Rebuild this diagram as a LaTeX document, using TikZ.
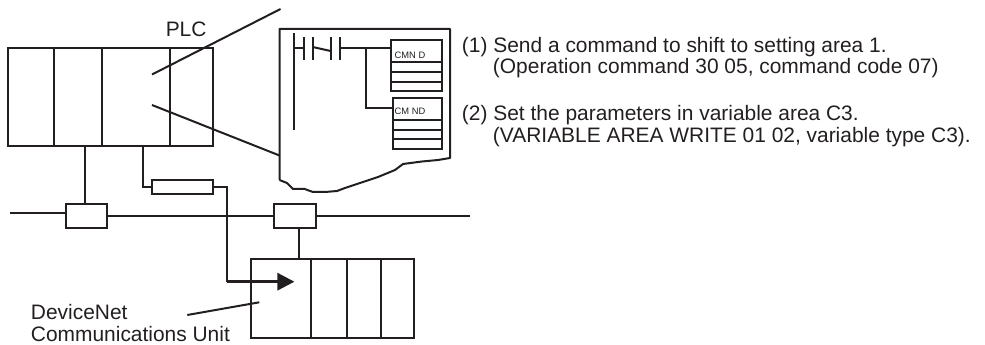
\documentclass[tikz,border=0pt]{standalone}
\usepackage{fontspec}
\setmainfont{Liberation Sans}
\usepackage{tikz}
\usetikzlibrary{positioning, arrows.meta}
\definecolor{linegray}{HTML}{231F20}
\tikzset{
    wire/.style={line width=1.5pt, draw=linegray},
    label/.style={inner sep=0pt, anchor=base west, text=linegray, font=\fontsize{15.7pt}{16pt}\selectfont},
    smalltext/.style={inner sep=0pt, text=linegray, font=\fontsize{7pt}{8pt}\selectfont},
    tapbox/.style={wire, rectangle, inner sep=0pt, minimum width=31.2pt, minimum height=18pt},
}
\begin{document}
\begin{tikzpicture}[x=0.75pt, y=-0.75pt, >=Latex]
        \useasboundingbox (0,0) rectangle (985,345);
        % PLC rack
        \draw [wire] (8,48) rectangle (212.5,146);
        \foreach \x in {54,102,169.5} \draw [wire] (\x,48) -- (\x,146);
        \node [label] (plc) at (165.5,36.7) {PLC};
        % zoom leaders
        \coordinate (leadtopa) at (152,74.5);
        \coordinate (leadtopb) at (280.5,9);
        \coordinate (leadlowa) at (152,105);
        \coordinate (leadlowb) at (279.5,155.5);
        \draw [wire] (leadtopa) -- (leadtopb);
        \draw [wire] (leadlowa) -- (leadlowb);
        % ladder detail
        \draw [wire, line join=round] (279.5,180) -- (279.5,29) -- (450,29) -- (450,158)
            -- (438,160) -- (422,161.5) -- (403,164) -- (395,170) -- (378,177) -- (363,182)
            -- (345,188) -- (337,191) -- (325,192) -- (320,192) -- (313,192) -- (306,189.5)
            -- (305,189) -- (293,189) -- (287,183) -- (279.5,180);
        \draw [wire] (294,33) -- (294,130);
        \draw [wire] (294,48.3) -- (304,48.3);
        \draw [wire] (304,37.5) -- (304,60.5);
        \draw [wire] (312.7,37.5) -- (312.7,60.5);
        \draw [wire] (312.7,47) -- (330.7,51);
        \draw [wire] (330.7,37.5) -- (330.7,60.5);
        \draw [wire] (340,37.5) -- (340,60.5);
        \node [wire, rectangle, inner sep=0pt, minimum width=38.3pt, minimum height=38pt] (cmda) at (416.3,65.3) {};
        \node [wire, rectangle, inner sep=0pt, minimum width=36.8pt, minimum height=38pt] (cmdb) at (417.5,123.7) {};
        \foreach \y in {62,72,81.7} \draw [wire] (cmda.west |- 0,\y) -- (cmda.east |- 0,\y);
        \foreach \y in {120,130,139.3} \draw [wire] (cmdb.west |- 0,\y) -- (cmdb.east |- 0,\y);
        \node [smalltext] (cmdatext) at (410,55) {CMN D};
        \node [smalltext] (cmdbtext) at (410,111.7) {CM ND};
        \coordinate (rung) at (340,48.3);
        \coordinate (branch) at (366,48.3);
        \draw [wire] (rung) -- (cmda.west |- rung);
        \draw [wire] (branch) |- (cmdb.west |- 0,107.7);
        % network
        \node [tapbox] (tapa) at (86.5,216) {};
        \node [tapbox] (tapb) at (295,216) {};
        \coordinate (busleft) at (10,213.5);
        \coordinate (busright) at (470,215.7);
        \draw [wire] (busleft) -- (tapa.west |- busleft);
        \draw [wire] (tapa.east |- busright) -- (tapb.west |- busright);
        \draw [wire] (tapb.east |- busright) -- (busright);
        \draw [wire] (85.3,146) -- (85.3,204);
        % resistor and arrow
        \node [wire, rectangle, inner sep=0pt, minimum width=45.3pt, minimum height=10.7pt] (res) at (182.5,187.2) {};
        \draw [wire] (142.7,146) |- (res.west);
        % DeviceNet unit
        \draw [wire] (250.7,259) rectangle (414.3,338.3);
        \foreach \x in {310.7,346.7,380.7} \draw [wire] (\x,259) -- (\x,338.3);
        \draw [wire] (299,228) -- (299,259);
        \coordinate (arrowtip) at (294.3,281.7);
        \draw [wire] (res.east) -| (227,281.7);
        \draw [wire, line width=2pt] (227,281.7) -- (280,281.7);
        \fill [linegray] (arrowtip) -- (277.3,272.7) -- (277.3,290.7) -- cycle;
        \node [label] (unitname) at (30.7,319.3) {DeviceNet};
        \node [label] (unitnameb) at (30.7,341.5) {Communications Unit};
        \coordinate (leadunita) at (187.3,315);
        \coordinate (leadunitb) at (259.3,302.3);
        \draw [wire] (leadunita) -- (leadunitb);
        % steps
        \node [label] (stepa) at (461.7,52.3) {(1) Send a command to shift to setting area 1.};
        \node [label] (stepb) at (492.7,74) {(Operation command 30 05, command code 07)};
        \node [label] (stepc) at (461.7,120.7) {(2) Set the parameters in variable area C3.};
        \node [label] (stepd) at (492.7,142.5) {(VARIABLE AREA WRITE 01 02, variable type C3).};
    \end{tikzpicture}
\end{document}
